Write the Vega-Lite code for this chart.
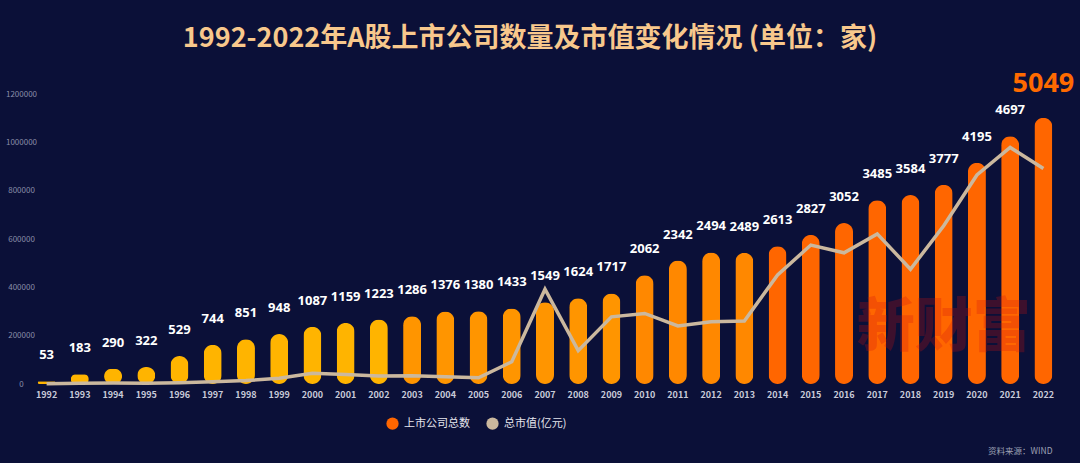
{
  "$schema": "https://vega.github.io/schema/vega-lite/v6.json",
  "width": 1030,
  "height": 290,
  "autosize": {"type": "none"},
  "padding": {"left": 30, "top": 94, "right": 20, "bottom": 79},
  "background": "#0b1038",
  "title": {
    "text": "1992-2022年A股上市公司数量及市值变化情况 (单位：家)",
    "anchor": "middle",
    "frame": "group",
    "offset": 17,
    "dx": -15,
    "fontSize": 27,
    "fontWeight": "bold",
    "color": "#f8c88c",
    "font": "Noto Sans CJK SC"
  },
  "config": {"view": {"stroke": null}, "font": "Noto Sans CJK SC"},
  "data": {
    "values": [
      {"year": 1992, "count": 53, "mcap": 1000},
      {"year": 1993, "count": 183, "mcap": 3500},
      {"year": 1994, "count": 290, "mcap": 3700},
      {"year": 1995, "count": 322, "mcap": 3500},
      {"year": 1996, "count": 529, "mcap": 5000},
      {"year": 1997, "count": 744, "mcap": 9000},
      {"year": 1998, "count": 851, "mcap": 14000},
      {"year": 1999, "count": 948, "mcap": 24000},
      {"year": 2000, "count": 1087, "mcap": 44000},
      {"year": 2001, "count": 1159, "mcap": 39000},
      {"year": 2002, "count": 1223, "mcap": 33000},
      {"year": 2003, "count": 1286, "mcap": 34000},
      {"year": 2004, "count": 1376, "mcap": 30000},
      {"year": 2005, "count": 1380, "mcap": 26000},
      {"year": 2006, "count": 1433, "mcap": 92000},
      {"year": 2007, "count": 1549, "mcap": 392000},
      {"year": 2008, "count": 1624, "mcap": 138000},
      {"year": 2009, "count": 1717, "mcap": 278000},
      {"year": 2010, "count": 2062, "mcap": 292000},
      {"year": 2011, "count": 2342, "mcap": 240000},
      {"year": 2012, "count": 2494, "mcap": 258000},
      {"year": 2013, "count": 2489, "mcap": 261000},
      {"year": 2014, "count": 2613, "mcap": 451000},
      {"year": 2015, "count": 2827, "mcap": 575000},
      {"year": 2016, "count": 3052, "mcap": 543000},
      {"year": 2017, "count": 3485, "mcap": 621000},
      {"year": 2018, "count": 3584, "mcap": 475000},
      {"year": 2019, "count": 3777, "mcap": 655000},
      {"year": 2020, "count": 4195, "mcap": 865000},
      {"year": 2021, "count": 4697, "mcap": 979000},
      {"year": 2022, "count": 5049, "mcap": 892000}
    ]
  },
  "encoding": {
    "x": {
      "field": "year",
      "type": "ordinal",
      "scale": {"paddingInner": 0, "paddingOuter": 0},
      "axis": {
        "labelAngle": 0,
        "labelColor": "#c8cad8",
        "labelFontSize": 9,
        "labelFontWeight": "bold",
        "labelPadding": 6,
        "domain": false,
        "ticks": false,
        "grid": false,
        "title": "资料来源：WIND",
        "titleX": 1022,
        "titleY": 66,
        "titleAlign": "right",
        "titleBaseline": "middle",
        "titleFontSize": 8.5,
        "titleFontWeight": "normal",
        "titleColor": "#9da0b4"
      }
    }
  },
  "layer": [
    {
      "layer": [
        {
          "mark": {"type": "bar", "size": 18, "cornerRadius": 9},
          "encoding": {
            "y": {"field": "count", "type": "quantitative", "scale": {"domain": [0, 5280]}, "axis": null},
            "fill": {
              "field": "year",
              "type": "quantitative",
              "scale": {"type": "threshold", "domain": [2003, 2010, 2014], "range": ["#ffb400", "#ff9500", "#ff8800", "#ff6600"]},
              "legend": null
            }
          }
        },
        {
          "transform": [{"filter": "datum.year != 2022"}],
          "mark": {"type": "text", "baseline": "middle", "dy": -26, "fontSize": 13, "fontWeight": "bold", "color": "#ffffff", "font": "Open Sans"},
          "encoding": {
            "y": {"field": "count", "type": "quantitative"},
            "text": {"field": "count", "type": "quantitative", "format": "d"}
          }
        },
        {
          "transform": [{"filter": "datum.year == 2022"}],
          "mark": {"type": "text", "baseline": "middle", "dy": -34, "fontSize": 27, "fontWeight": "bold", "color": "#ff6a00", "font": "Open Sans"},
          "encoding": {
            "y": {"field": "count", "type": "quantitative"},
            "text": {"field": "count", "type": "quantitative", "format": "d"}
          }
        }
      ]
    },
    {
      "layer": [
        {
          "mark": {"type": "line", "strokeWidth": 3.5, "strokeJoin": "miter"},
          "encoding": {
            "y": {
              "field": "mcap",
              "type": "quantitative",
              "scale": {"domain": [0, 1200000]},
              "axis": {
                "orient": "left",
                "values": [0, 200000, 400000, 600000, 800000, 1000000, 1200000],
                "format": "d",
                "labelColor": "#8a8ea8",
                "labelFontSize": 8,
                "labelAlign": "center",
                "labelPadding": 9,
                "tickSize": 0,
                "ticks": false,
                "domain": false,
                "grid": false,
                "title": null
              }
            },
            "color": {
              "datum": "总市值(亿元)",
              "type": "nominal",
              "scale": {"domain": ["上市公司总数", "总市值(亿元)"], "range": ["#ff6600", "#cbb89e"]},
              "legend": {
                "orient": "none",
                "legendX": 356,
                "legendY": 323,
                "direction": "horizontal",
                "title": null,
                "symbolType": "circle",
                "symbolSize": 150,
                "labelFontSize": 11,
                "labelColor": "#e6e6ee",
                "labelOffset": 5,
                "columnPadding": 16,
                "encode": {
                  "symbols": {
                    "update": {
                      "fill": {"scale": "color", "field": "value"},
                      "fillOpacity": {"value": 1},
                      "strokeWidth": {"value": 0},
                      "shape": {"value": "circle"}
                    }
                  }
                }
              }
            }
          }
        },
        {
          "data": {"values": [{}]},
          "mark": {"type": "text", "text": "新财富", "fontSize": 58, "fontWeight": 900, "color": "#d01010", "opacity": 0.25, "baseline": "middle", "align": "center"},
          "encoding": {
            "x": {"datum": 2019, "type": "ordinal"},
            "y": {"datum": 228000, "type": "quantitative"}
          }
        }
      ]
    }
  ],
  "resolve": {"scale": {"y": "independent"}}
}
